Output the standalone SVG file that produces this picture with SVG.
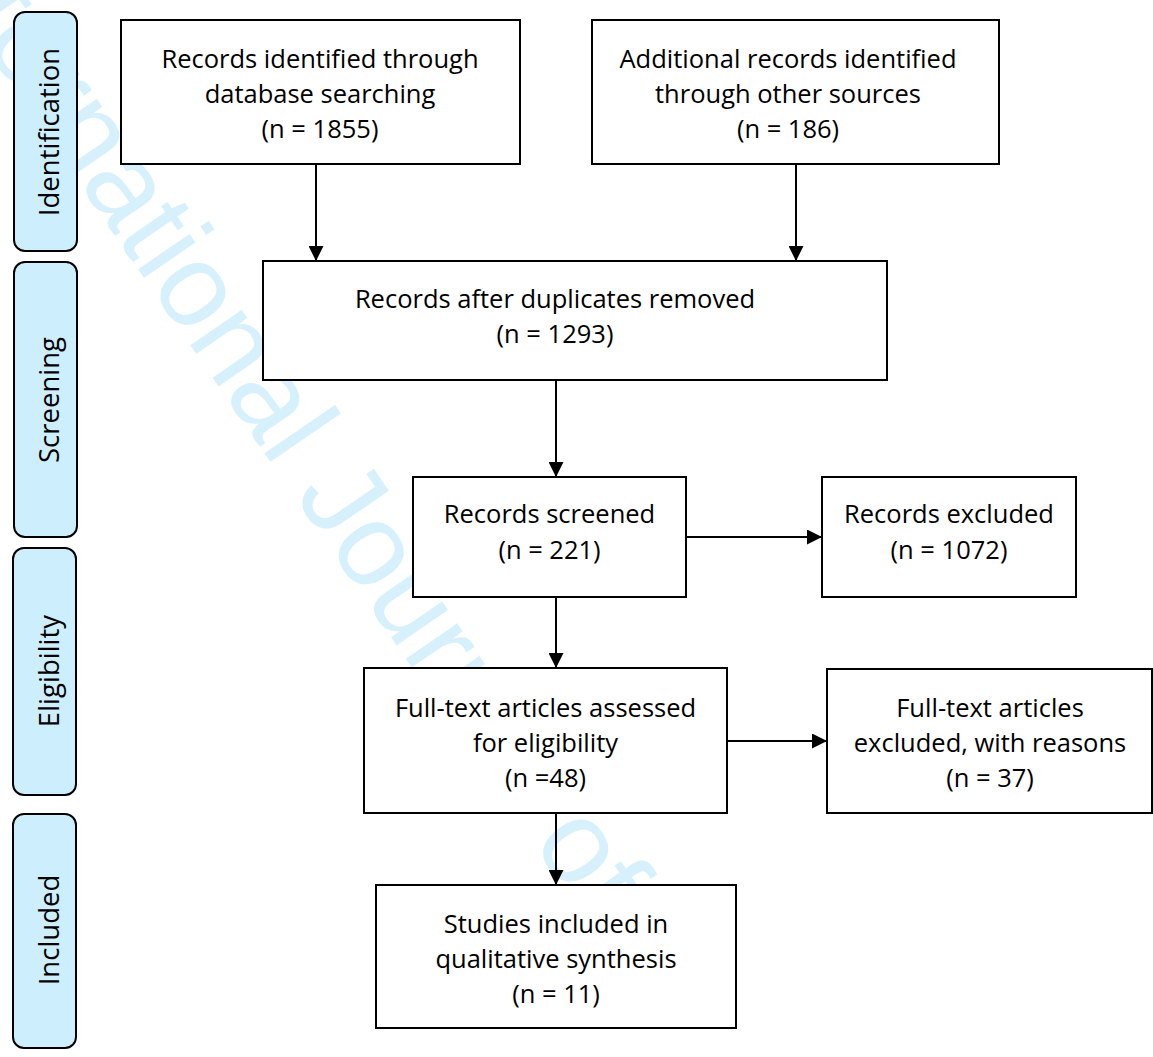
<svg xmlns="http://www.w3.org/2000/svg" width="1153" height="1057" viewBox="0 0 1153 1057">
<defs>
<marker id="arr" markerWidth="15" markerHeight="15" refX="15" refY="7.5" orient="auto" markerUnits="userSpaceOnUse">
<path d="M0,0 L15,7.5 L0,15 Z" fill="#000"/>
</marker>
</defs>
<style>
.box{fill:#fff;stroke:#000;stroke-width:2}
.phase{fill:#cdeefd;stroke:#000;stroke-width:2}
.t{font-family:"Open Sans","Liberation Sans",sans-serif;font-size:25.5px;fill:#000;text-anchor:middle}
.pt{font-family:"Open Sans","Liberation Sans",sans-serif;font-size:27.5px;fill:#000;text-anchor:middle}
.wm{font-family:"Liberation Sans",Arial,sans-serif;font-size:118px;fill:#d6f1fc}
.c{stroke:#000;stroke-width:2;fill:none}
</style>
<rect width="1153" height="1057" fill="#fff"/>
<text class="wm" transform="translate(-93,-67) rotate(55.5)">International Journal of</text>

<g id="phase-identification"><rect class="phase" x="14" y="12" width="63" height="239" rx="11"/><text class="pt" transform="translate(59,132) rotate(-90)">Identification</text></g>
<g id="phase-screening"><rect class="phase" x="14" y="262" width="63" height="275" rx="11"/><text class="pt" transform="translate(59,400) rotate(-90)">Screening</text></g>
<g id="phase-eligibility"><rect class="phase" x="13" y="548" width="63" height="247" rx="11"/><text class="pt" transform="translate(59,671) rotate(-90)">Eligibility</text></g>
<g id="phase-included"><rect class="phase" x="13" y="814" width="63" height="234" rx="11"/><text class="pt" transform="translate(59,930) rotate(-90)">Included</text></g>

<g id="connectors">
<line class="c" x1="316" y1="164" x2="316" y2="261" marker-end="url(#arr)"/>
<line class="c" x1="796" y1="164" x2="796" y2="261" marker-end="url(#arr)"/>
<line class="c" x1="556" y1="380" x2="556" y2="477" marker-end="url(#arr)"/>
<line class="c" x1="687" y1="537" x2="822" y2="537" marker-end="url(#arr)"/>
<line class="c" x1="556" y1="597" x2="556" y2="668" marker-end="url(#arr)"/>
<line class="c" x1="696" y1="741" x2="827" y2="741" marker-end="url(#arr)"/>
<line class="c" x1="556" y1="813" x2="556" y2="885" marker-end="url(#arr)"/>
</g>

<g id="node-identified-db"><rect class="box" x="121" y="20" width="399" height="144"/>
<text class="t" x="320" y="68">Records identified through</text><text class="t" x="320" y="103">database searching</text><text class="t" x="320" y="138">(n = 1855)</text></g>
<g id="node-identified-other"><rect class="box" x="592" y="20" width="407" height="144"/>
<text class="t" x="788" y="68">Additional records identified</text><text class="t" x="788" y="103">through other sources</text><text class="t" x="788" y="138">(n = 186)</text></g>
<g id="node-dedup"><rect class="box" x="263" y="261" width="624" height="119"/>
<text class="t" x="555" y="308">Records after duplicates removed</text><text class="t" x="555" y="343">(n = 1293)</text></g>
<g id="node-screened"><rect class="box" x="413" y="477" width="273" height="120"/>
<text class="t" x="549.5" y="523">Records screened</text><text class="t" x="549.5" y="559">(n = 221)</text></g>
<g id="node-excluded"><rect class="box" x="822" y="477" width="254" height="120"/>
<text class="t" x="949" y="523">Records excluded</text><text class="t" x="949" y="559">(n = 1072)</text></g>
<g id="node-fulltext"><rect class="box" x="364" y="668" width="363" height="145"/>
<text class="t" x="545.5" y="717">Full-text articles assessed</text><text class="t" x="545.5" y="752">for eligibility</text><text class="t" x="545.5" y="787">(n =48)</text></g>
<g id="node-fulltext-excluded"><rect class="box" x="827" y="669" width="325" height="144"/>
<text class="t" x="990" y="717">Full-text articles</text><text class="t" x="990" y="752">excluded, with reasons</text><text class="t" x="990" y="787">(n = 37)</text></g>
<g id="node-included"><rect class="box" x="376" y="885" width="360" height="143"/>
<text class="t" x="556" y="933">Studies included in</text><text class="t" x="556" y="968">qualitative synthesis</text><text class="t" x="556" y="1003">(n = 11)</text></g>
</svg>
